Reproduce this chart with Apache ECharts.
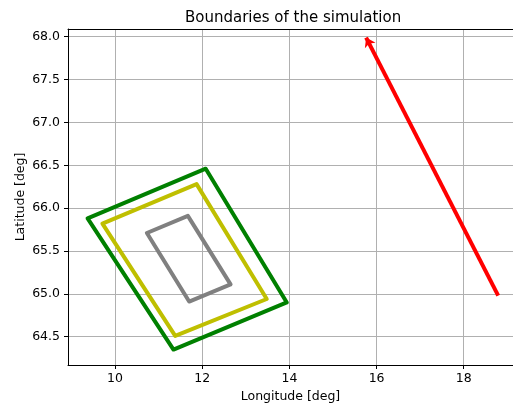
<!DOCTYPE html>
<html>
<head>
<meta charset="utf-8">
<script src="https://cdn.jsdelivr.net/npm/echarts@6/dist/echarts.min.js"></script>
<style>html,body{margin:0;padding:0;background:#fff;}#c{width:513px;height:404px;}</style>
</head>
<body>
<div id="c"></div>
<script>
// Data
const greenLon  = [9.37, 12.08, 13.94, 11.34, 9.37];
const greenLat  = [65.88, 66.46, 64.90, 64.35, 65.88];
const yellowLon = [9.71, 11.87, 13.48, 11.38, 9.71];
const yellowLat = [65.82, 66.28, 64.94, 64.51, 65.82];
const grayLon   = [10.73, 11.67, 12.65, 11.70, 10.73];
const grayLat   = [65.71, 65.91, 65.11, 64.91, 65.71];
const redLon    = [18.79, 15.76];
const redLat    = [64.98, 67.99];
const xTicks = [10, 12, 14, 16, 18];
const yTicks = [64.5, 65.0, 65.5, 66.0, 66.5, 67.0, 67.5, 68.0];

const pts = (xs, ys) => xs.map((x, i) => [x, ys[i]]);
const FONT = 'DejaVu Sans';
const chart = echarts.init(document.getElementById('c'), null, {renderer: 'canvas'});
const lineSeries = (name, xs, ys, color, w) => ({
  name, type: 'line', data: pts(xs, ys), showSymbol: false, symbol: 'none',
  lineStyle: {color, width: w, join: 'round', cap: 'round'}, silent: true, z: 3
});
chart.setOption({
  animation: false,
  backgroundColor: '#fff',
  title: {
    text: 'Boundaries of the simulation', left: 185, top: 11, padding: 0,
    textStyle: {fontFamily: FONT, fontSize: 15, fontWeight: 'normal', color: '#000'}
  },
  grid: {left: 68, top: 29, right: 0, bottom: 39, containLabel: false, outerBoundsMode: 'none'},
  xAxis: [{
    type: 'value', min: 8.92, max: 19.13, position: 'bottom',
    name: 'Longitude [deg]', nameLocation: 'middle', nameGap: 25, nameMoveOverlap: false,
    nameTextStyle: {fontFamily: FONT, fontSize: 12.5, color: '#000'},
    axisLine: {show: true, onZero: false, lineStyle: {color: '#000', width: 1}},
    axisTick: {show: true, length: 4, inside: false, customValues: xTicks, lineStyle: {color: '#000'}},
    axisLabel: {customValues: xTicks, margin: 7, fontFamily: FONT, fontSize: 12.5, color: '#000',
      formatter: v => String(v)},
    splitLine: {show: true, lineStyle: {color: '#b0b0b0', width: 1}}
  }, {
    type: 'value', min: 8.92, max: 19.13, position: 'top',
    axisLine: {show: true, onZero: false, lineStyle: {color: '#000', width: 1}},
    axisTick: {show: false}, axisLabel: {show: false}, splitLine: {show: false}
  }],
  yAxis: {
    type: 'value', min: 64.17, max: 68.09,
    name: 'Latitude [deg]', nameLocation: 'middle', nameGap: 41, nameRotate: 90, nameMoveOverlap: false,
    nameTextStyle: {fontFamily: FONT, fontSize: 12.5, color: '#000'},
    axisLine: {show: true, onZero: false, lineStyle: {color: '#000', width: 1}},
    axisTick: {show: true, length: 4, inside: false, customValues: yTicks, lineStyle: {color: '#000'}},
    axisLabel: {customValues: yTicks, margin: 8, fontFamily: FONT, fontSize: 12.5, color: '#000',
      formatter: v => v.toFixed(1)},
    splitLine: {show: true, lineStyle: {color: '#b0b0b0', width: 1}}
  },
  series: [
    lineSeries('green', greenLon, greenLat, '#008000', 4),
    lineSeries('yellow', yellowLon, yellowLat, '#bfbf00', 4),
    lineSeries('gray', grayLon, grayLat, '#808080', 4),
    {
      type: 'lines', coordinateSystem: 'cartesian2d', polyline: false, silent: true, z: 4,
      symbol: ['none', 'arrow'], symbolSize: [5, 9],
      lineStyle: {color: '#ff0000', width: 4, opacity: 1},
      data: [{coords: pts(redLon, redLat)}]
    }
  ]
});
</script>
</body>
</html>
